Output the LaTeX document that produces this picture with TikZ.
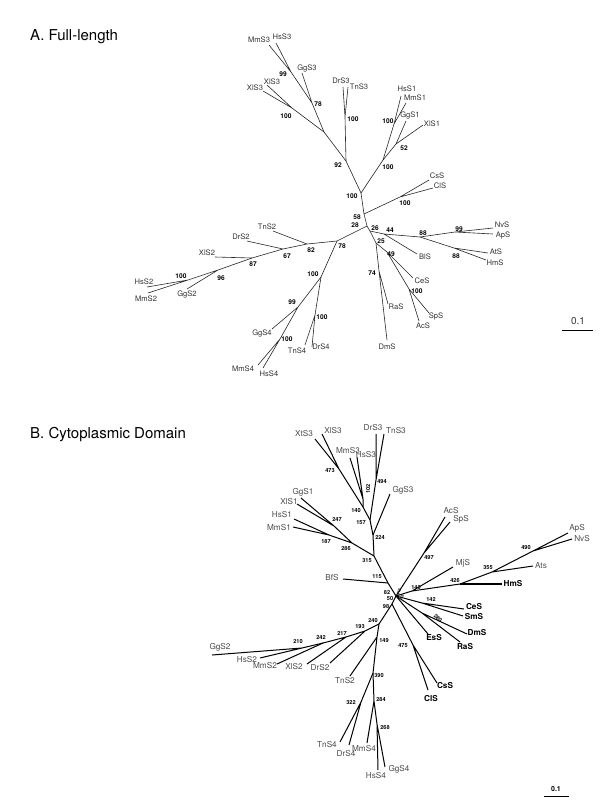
\documentclass[tikz,border=0pt]{standalone}
\usepackage{fontspec}
\setmainfont{TeX Gyre Heros}
\tikzset{
	tipA/.style={inner sep=0pt, text=black!80, font=\fontsize{7.6}{8}\selectfont},
	bootA/.style={inner sep=0pt, font=\bfseries\fontsize{6.6}{7}\selectfont},
	tipB/.style={inner sep=0pt, text=black!70, font=\fontsize{8.2}{9}\selectfont},
	tipBb/.style={inner sep=0pt, font=\bfseries\fontsize{8.2}{9}\selectfont},
	bootB/.style={inner sep=0pt, font=\bfseries\fontsize{5.6}{6}\selectfont},
	branchA/.style={line width=0.6pt, color=black!85},
	branchB/.style={line width=1pt},
	heading/.style={inner sep=0pt, anchor=west, font=\fontsize{15}{16}\selectfont},
}

\begin{document}
\begin{tikzpicture}[x=1pt, y=-1pt]
		%%%%% START %%%%%
		\useasboundingbox (0, 0) rectangle (600, 804);
		
		\node[heading] (titleA) at (30, 37) {A. Full-length};
		\node[heading] (titleB) at (30, 435) {B. Cytoplasmic Domain};
		
		%%%%% A %%%%%
		\coordinate (aTop) at (361, 193);
		\coordinate (a92) at (346, 161);
		\coordinate (aS3a) at (324, 132);
		\coordinate (aX3) at (292, 108);
		\coordinate (aG3) at (312, 103);
		\coordinate (aHM3) at (291, 72);
		\coordinate (aDT3) at (345, 117);
		\coordinate (aS1) at (383, 160);
		\coordinate (aHM1) at (394, 124);
		\coordinate (aGX1) at (396, 144);
		\coordinate (aCs) at (364, 214);
		\coordinate (aCC) at (400, 197);
		\coordinate (aC) at (367, 226);
		\coordinate (a26) at (370, 231);
		\coordinate (a44) at (384, 234);
		\coordinate (a68) at (420, 237);
		\coordinate (a99) at (455, 232);
		\coordinate (a88) at (454, 248);
		\coordinate (a25) at (376, 243);
		\coordinate (a74) at (379, 271);
		\coordinate (a49) at (387, 252);
		\coordinate (aSA) at (409, 289);
		\coordinate (a78) at (337, 241);
		\coordinate (a82) at (307, 244);
		\coordinate (a67) at (283, 249);
		\coordinate (a87) at (252, 258);
		\coordinate (a96) at (218, 270);
		\coordinate (aHM2) at (188, 280);
		\coordinate (aS4) at (321, 277);
		\coordinate (a99s4) at (298, 307);
		\coordinate (aHM4) at (280, 339);
		\coordinate (aDT4) at (315, 315);
		
		\coordinate (aMmS3) at (269, 45); \node[tipA] (laMmS3) at (259, 40) {MmS3};
		\coordinate (aHsS3) at (276, 43); \node[tipA] (laHsS3) at (282, 37) {HsS3};
		\coordinate (aGgS3) at (302, 73); \node[tipA] (laGgS3) at (307, 68) {GgS3};
		\coordinate (aXlS3u) at (267, 85); \node[tipA] (laXlS3u) at (272, 82) {XlS3};
		\coordinate (aXlS3l) at (263, 91); \node[tipA] (laXlS3l) at (255, 88) {XlS3};
		\coordinate (aDrS3) at (343, 87); \node[tipA] (laDrS3) at (341, 81) {DrS3};
		\coordinate (aTnS3) at (348, 87); \node[tipA] (laTnS3) at (359, 87) {TnS3};
		\coordinate (aHsS1) at (401, 96); \node[tipA] (laHsS1) at (407, 89) {HsS1};
		\coordinate (aMmS1) at (406, 103); \node[tipA] (laMmS1) at (415, 98) {MmS1};
		\coordinate (aGgS1) at (406, 121); \node[tipA] (laGgS1) at (410, 115) {GgS1};
		\coordinate (aXlS1) at (423, 125); \node[tipA] (laXlS1) at (432, 124) {XlS1};
		\coordinate (aCsS) at (429, 180); \node[tipA] (laCsS) at (437, 176) {CsS};
		\coordinate (aClS) at (433, 188); \node[tipA] (laClS) at (440, 186) {ClS};
		\coordinate (aNvS) at (493, 228); \node[tipA] (laNvS) at (502, 225) {NvS};
		\coordinate (aApS) at (493, 234); \node[tipA] (laApS) at (503, 235) {ApS};
		\coordinate (aAtS) at (488, 253); \node[tipA] (laAtS) at (496, 252) {AtS};
		\coordinate (aHmS) at (486, 260); \node[tipA] (laHmS) at (495, 263) {HmS};
		\coordinate (aBlS) at (417, 254); \node[tipA] (laBlS) at (425, 257) {BlS};
		\coordinate (aCeS) at (413, 278); \node[tipA] (laCeS) at (422, 281) {CeS};
		\coordinate (aSpS) at (429, 313); \node[tipA] (laSpS) at (436, 316) {SpS};
		\coordinate (aAcS) at (419, 321); \node[tipA] (laAcS) at (423, 326) {AcS};
		\coordinate (aRaS) at (388, 304); \node[tipA] (laRaS) at (396, 307) {RaS};
		\coordinate (aDmS) at (387, 340); \node[tipA] (laDmS) at (387, 347) {DmS};
		\coordinate (aTnS2) at (273, 231); \node[tipA] (laTnS2) at (267, 227) {TnS2};
		\coordinate (aDrS2) at (247, 241); \node[tipA] (laDrS2) at (241, 237) {DrS2};
		\coordinate (aXlS2) at (215, 257); \node[tipA] (laXlS2) at (207, 253) {XlS2};
		\coordinate (aHsS2) at (147, 287); \node[tipA] (laHsS2) at (144, 282) {HsS2};
		\coordinate (aMmS2) at (148, 293); \node[tipA] (laMmS2) at (146, 299) {MmS2};
		\coordinate (aGgS2) at (187, 289); \node[tipA] (laGgS2) at (187, 294) {GgS2};
		\coordinate (aGgS4) at (272, 329); \node[tipA] (laGgS4) at (262, 333) {GgS4};
		\coordinate (aMmS4) at (258, 365); \node[tipA] (laMmS4) at (243, 369) {MmS4};
		\coordinate (aHsS4) at (263, 368); \node[tipA] (laHsS4) at (269, 374) {HsS4};
		\coordinate (aTnS4) at (305, 345); \node[tipA] (laTnS4) at (297, 351) {TnS4};
		\coordinate (aDrS4) at (312, 347); \node[tipA] (laDrS4) at (321, 347) {DrS4};
		
		\draw[branchA] (aTop) -- (a92) -- (aS3a) -- (aX3) -- (aXlS3u) (aX3) -- (aXlS3l);
		\draw[branchA] (aS3a) -- (aG3) -- (aGgS3) (aG3) -- (aHM3) -- (aMmS3) (aHM3) -- (aHsS3);
		\draw[branchA] (a92) -- (aDT3) -- (aDrS3) (aDT3) -- (aTnS3);
		\draw[branchA] (aTop) -- (aS1) -- (aHM1) -- (aHsS1) (aHM1) -- (aMmS1);
		\draw[branchA] (aS1) -- (aGX1) -- (aGgS1) (aGX1) -- (aXlS1);
		\draw[branchA] (aTop) -- (aCs) -- (aC) (aCs) -- (aCC) -- (aCsS) (aCC) -- (aClS);
		\draw[branchA] (aC) -- (a26) -- (a44) -- (aBlS) (a44) -- (a68) -- (a99) -- (aNvS) (a99) -- (aApS);
		\draw[branchA] (a68) -- (a88) -- (aAtS) (a88) -- (aHmS);
		\draw[branchA] (a26) -- (a25) -- (a74) -- (aDmS) (a74) -- (aRaS);
		\draw[branchA] (a25) -- (a49) -- (aCeS) (a49) -- (aSA) -- (aSpS) (aSA) -- (aAcS);
		\draw[branchA] (aC) -- (a78) -- (a82) -- (aTnS2) (a82) -- (a67) -- (aDrS2) (a67) -- (a87) -- (aXlS2);
		\draw[branchA] (a87) -- (a96) -- (aGgS2) (a96) -- (aHM2) -- (aHsS2) (aHM2) -- (aMmS2);
		\draw[branchA] (a78) -- (aS4) -- (a99s4) -- (aGgS4) (a99s4) -- (aHM4) -- (aMmS4) (aHM4) -- (aHsS4);
		\draw[branchA] (aS4) -- (aDT4) -- (aTnS4) (aDT4) -- (aDrS4);
		
		\node[bootA] (baHM3) at (283, 74) {99};
		\node[bootA] (baG3) at (318, 104) {78};
		\node[bootA] (baX3) at (286, 116) {100};
		\node[bootA] (baDT3) at (353, 119) {100};
		\node[bootA] (ba92) at (338, 165) {92};
		\node[bootA] (baTop) at (352, 196) {100};
		\node[bootA] (baHM1) at (388, 121) {100};
		\node[bootA] (baGX1) at (404, 148) {52};
		\node[bootA] (baS1) at (388, 167) {100};
		\node[bootA] (baCC) at (405, 203) {100};
		\node[bootA] (baCs) at (357, 217) {58};
		\node[bootA] (baC) at (355, 225) {28};
		\node[bootA] (ba26) at (375, 228) {26};
		\node[bootA] (ba44) at (390, 230) {44};
		\node[bootA] (ba68) at (423, 233) {88};
		\node[bootA] (ba99) at (459, 229) {99};
		\node[bootA] (ba88) at (456, 256) {88};
		\node[bootA] (ba25) at (381, 241) {25};
		\node[bootA] (ba49) at (391, 254) {49};
		\node[bootA] (ba74) at (372, 273) {74};
		\node[bootA] (baSA) at (417, 291) {100};
		\node[bootA] (ba78) at (342, 246) {78};
		\node[bootA] (ba82) at (311, 250) {82};
		\node[bootA] (ba67) at (287, 256) {67};
		\node[bootA] (ba87) at (253, 264) {87};
		\node[bootA] (ba96) at (221, 278) {96};
		\node[bootA] (baHM2) at (181, 276) {100};
		\node[bootA] (baS4) at (313, 274) {100};
		\node[bootA] (ba99s4) at (292, 302) {99};
		\node[bootA] (baHM4) at (287, 339) {100};
		\node[bootA] (baDT4) at (322, 317) {100};
		
		\coordinate (sA1) at (562, 330);
		\coordinate (sA2) at (593, 330);
		\draw[line width=0.8pt] (sA1) -- (sA2);
		\node[tipA, font=\fontsize{10}{11}\selectfont] (lsA) at (578, 321) {0.1};
		
		%%%%% B %%%%%
		\coordinate (bO) at (396, 596);
		\coordinate (bBf) at (388, 583);
		\coordinate (b315) at (374, 556);
		\coordinate (b224) at (373, 535);
		\coordinate (b157) at (370, 520);
		\coordinate (b140) at (363, 507);
		\coordinate (b102) at (363, 499);
		\coordinate (b473) at (339, 469);
		\coordinate (b494) at (376, 480);
		\coordinate (b286) at (352, 543);
		\coordinate (b247) at (334, 526);
		\coordinate (b187) at (329, 535);
		\coordinate (b497) at (424, 553);
		\coordinate (b143) at (412, 591);
		\coordinate (b426) at (460, 584);
		\coordinate (b355) at (492, 572);
		\coordinate (b490) at (533, 551);
		\coordinate (b142) at (422, 603);
		\coordinate (b280) at (422, 613);
		\coordinate (b98) at (392, 604);
		\coordinate (b475) at (413, 645);
		\coordinate (b240) at (379, 624);
		\coordinate (b193) at (365, 631);
		\coordinate (b217) at (346, 637);
		\coordinate (b242) at (323, 643);
		\coordinate (b210) at (302, 648);
		\coordinate (b149) at (377, 637);
		\coordinate (b390) at (373, 673);
		\coordinate (b322) at (361, 702);
		\coordinate (b284) at (374, 701);
		\coordinate (b268) at (377, 724);
		
		\coordinate (bXtS3) at (315, 439); \node[tipB] (lbXtS3) at (304, 434) {XtS3};
		\coordinate (bXlS3) at (322, 434); \node[tipB] (lbXlS3) at (333, 431) {XlS3};
		\coordinate (bDrS3) at (376, 434); \node[tipB] (lbDrS3) at (373, 428) {DrS3};
		\coordinate (bTnS3) at (384, 434); \node[tipB] (lbTnS3) at (396, 431) {TnS3};
		\coordinate (bMmS3) at (350, 458); \node[tipB] (lbMmS3) at (348, 451) {MmS3};
		\coordinate (bHsS3) at (357, 457); \node[tipB] (lbHsS3) at (366, 455) {HsS3};
		\coordinate (bGgS3) at (390, 494); \node[tipB] (lbGgS3) at (403, 490) {GgS3};
		\coordinate (bGgS1) at (301, 498); \node[tipB] (lbGgS1) at (303, 492) {GgS1};
		\coordinate (bXlS1) at (297, 504); \node[tipB] (lbXlS1) at (289, 502) {XlS1};
		\coordinate (bHsS1) at (294, 519); \node[tipB] (lbHsS1) at (282, 515) {HsS1};
		\coordinate (bMmS1) at (293, 527); \node[tipB] (lbMmS1) at (279, 528) {MmS1};
		\coordinate (bBfS) at (343, 579); \node[tipB] (lbBfS) at (332, 578) {BfS};
		\coordinate (bAcS) at (445, 517); \node[tipB] (lbAcS) at (451, 511) {AcS};
		\coordinate (bSpS) at (450, 522); \node[tipB] (lbSpS) at (461, 519) {SpS};
		\coordinate (bMjS) at (453, 567); \node[tipB] (lbMjS) at (463, 563) {MjS};
		\coordinate (bApS) at (568, 533); \node[tipB] (lbApS) at (577, 528) {ApS};
		\coordinate (bNvS) at (572, 539); \node[tipB] (lbNvS) at (582, 539) {NvS};
		\coordinate (bAts) at (533, 566); \node[tipB] (lbAts) at (541, 566) {Ats};
		\coordinate (bHmS) at (502, 584); \node[tipBb] (lbHmS) at (513, 584) {HmS};
		\coordinate (bCeS) at (464, 609); \node[tipBb] (lbCeS) at (474, 607) {CeS};
		\coordinate (bSmS) at (463, 616); \node[tipBb] (lbSmS) at (474, 617) {SmS};
		\coordinate (bDmS) at (467, 634); \node[tipBb] (lbDmS) at (477, 633) {DmS};
		\coordinate (bRaS) at (460, 642); \node[tipBb] (lbRaS) at (465, 647) {RaS};
		\coordinate (bEsS) at (428, 634); \node[tipBb] (lbEsS) at (434, 638) {EsS};
		\coordinate (bCsS) at (437, 683); \node[tipBb] (lbCsS) at (445, 686) {CsS};
		\coordinate (bClS) at (428, 690); \node[tipBb] (lbClS) at (431, 699) {ClS};
		\coordinate (bGgS2) at (212, 655); \node[tipB] (lbGgS2) at (220, 647) {GgS2};
		\coordinate (bHsS2) at (260, 658); \node[tipB] (lbHsS2) at (247, 660) {HsS2};
		\coordinate (bMmS2) at (277, 664); \node[tipB] (lbMmS2) at (265, 666) {MmS2};
		\coordinate (bXlS2) at (307, 664); \node[tipB] (lbXlS2) at (294, 667) {XlS2};
		\coordinate (bDrS2) at (330, 663); \node[tipB] (lbDrS2) at (320, 668) {DrS2};
		\coordinate (bTnS2) at (350, 676); \node[tipB] (lbTnS2) at (345, 681) {TnS2};
		\coordinate (bTnS4) at (340, 742); \node[tipB] (lbTnS4) at (327, 745) {TnS4};
		\coordinate (bDrS4) at (349, 745); \node[tipB] (lbDrS4) at (346, 754) {DrS4};
		\coordinate (bMmS4) at (367, 743); \node[tipB] (lbMmS4) at (364, 749) {MmS4};
		\coordinate (bHsS4) at (378, 770); \node[tipB] (lbHsS4) at (376, 776) {HsS4};
		\coordinate (bGgS4) at (385, 767); \node[tipB] (lbGgS4) at (399, 769) {GgS4};
		
		\draw[branchB] (bO) -- (bBf) -- (b315) -- (b224) -- (b157) -- (b140) -- (b102) -- (bMmS3) (b102) -- (bHsS3);
		\draw[branchB] (b140) -- (b473) -- (bXtS3) (b473) -- (bXlS3);
		\draw[branchB] (b157) -- (b494) -- (bDrS3) (b494) -- (bTnS3);
		\draw[branchB] (b224) -- (bGgS3);
		\draw[branchB] (b315) -- (b286) -- (b247) -- (bGgS1) (b247) -- (bXlS1) (b286) -- (b187) -- (bHsS1) (b187) -- (bMmS1);
		\draw[branchB] (bBf) -- (bBfS);
		\draw[branchB] (bO) -- (b497) -- (bAcS) (b497) -- (bSpS);
		\draw[branchB] (bO) -- (b143) -- (bMjS) (b143) -- (b426) -- (b355) -- (bAts) (b355) -- (b490) -- (bApS) (b490) -- (bNvS);
		\draw[branchB, line width=1.6pt] (b426) -- (bHmS);
		\draw[branchB] (bO) -- (b142) -- (bCeS) (b142) -- (bSmS);
		\draw[branchB] (bO) -- (b280) -- (bDmS) (b280) -- (bRaS);
		\draw[branchB] (bO) -- (bEsS);
		\draw[branchB] (bO) -- (b98) -- (b475) -- (bCsS) (b475) -- (bClS);
		\draw[branchB] (b98) -- (b240) -- (b193) -- (bDrS2) (b193) -- (b217) -- (bXlS2) (b217) -- (b242) -- (bMmS2);
		\draw[branchB] (b242) -- (b210) -- (bHsS2) (b210) -- (bGgS2);
		\draw[branchB] (b240) -- (b149) -- (bTnS2) (b149) -- (b390) -- (b322) -- (bTnS4) (b322) -- (bDrS4);
		\draw[branchB] (b390) -- (b284) -- (bMmS4) (b284) -- (b268) -- (bHsS4) (b268) -- (bGgS4);
		
		\node[bootB] (bb473) at (330, 470) {473};
		\node[bootB, rotate=90] (bb102) at (368, 489) {102};
		\node[bootB] (bb494) at (382, 481) {494};
		\node[bootB] (bb140) at (356, 510) {140};
		\node[bootB] (bb157) at (361, 523) {157};
		\node[bootB] (bb224) at (380, 537) {224};
		\node[bootB] (bb315) at (367, 560) {315};
		\node[bootB] (bb247) at (337, 519) {247};
		\node[bootB] (bb187) at (326, 541) {187};
		\node[bootB] (bb286) at (346, 548) {286};
		\node[bootB] (bbBf) at (377, 577) {115};
		\node[bootB] (bb497) at (429, 557) {497};
		\node[bootB] (bb143) at (416, 587) {143};
		\node[bootB] (bb426) at (455, 580) {426};
		\node[bootB] (bb355) at (488, 567) {355};
		\node[bootB] (bb490) at (526, 547) {490};
		\node[bootB] (bbO) at (387, 592) {82};
		\node[bootB] (bbO2) at (390, 598) {50};
		\node[bootB] (bb98) at (386, 606) {98};
		\node[bootB, font=\bfseries\fontsize{4}{4}\selectfont, rotate=70] (bbOa) at (399, 592) {413};
		\node[bootB, font=\bfseries\fontsize{4}{4}\selectfont, rotate=70] (bbOb) at (402, 597) {45};
		\node[bootB] (bb142) at (431, 599) {142};
		\node[bootB, rotate=-45] (bb280) at (438, 618) {280};
		\node[bootB] (bb475) at (403, 646) {475};
		\node[bootB] (bb240) at (373, 620) {240};
		\node[bootB] (bb193) at (360, 626) {193};
		\node[bootB] (bb217) at (342, 633) {217};
		\node[bootB] (bb242) at (321, 637) {242};
		\node[bootB] (bb210) at (298, 641) {210};
		\node[bootB] (bb149) at (384, 640) {149};
		\node[bootB] (bb390) at (379, 675) {390};
		\node[bootB] (bb322) at (351, 702) {322};
		\node[bootB] (bb284) at (381, 699) {284};
		\node[bootB] (bb268) at (385, 727) {268};
		
		\coordinate (sB1) at (544, 796);
		\coordinate (sB2) at (569, 796);
		\draw[line width=1pt] (sB1) -- (sB2);
		\node[bootB, font=\bfseries\fontsize{7}{8}\selectfont] (lsB) at (556, 789) {0.1};
		
		%%%%% END %%%%%
	\end{tikzpicture}
\end{document}
